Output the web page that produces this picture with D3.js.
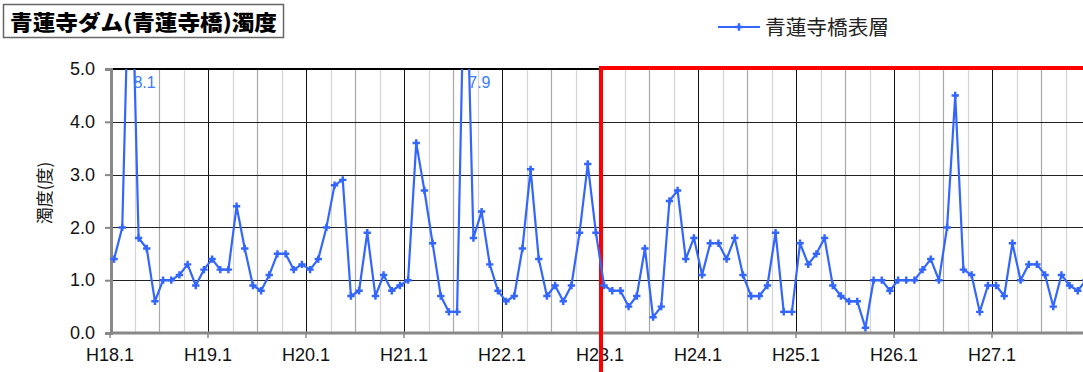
<!DOCTYPE html>
<html><head><meta charset="utf-8">
<script src="https://cdn.jsdelivr.net/npm/d3@7"></script>
<style>
html,body{margin:0;padding:0;background:#fff;overflow:hidden;}
svg{display:block;font-family:"Liberation Sans",Arial,sans-serif;}
</style></head>
<body>
<svg id="chart" width="1083" height="372"></svg>
<script>
const years = ["H18","H19","H20","H21","H22","H23","H24","H25","H26","H27"];
const months = [1,2,3,4,5,6,7,8,9,10,11,12];
const yearTickLabels = ["H18.1","H19.1","H20.1","H21.1","H22.1","H23.1","H24.1","H25.1","H26.1","H27.1"];
const yTicks = [0,1,2,3,4,5];
const seriesName = "青蓮寺橋表層";
const values = [
  1.4,2.0,8.1,1.8,1.6,0.6,1.0,1.0,1.1,1.3,0.9,1.2,
  1.4,1.2,1.2,2.4,1.6,0.9,0.8,1.1,1.5,1.5,1.2,1.3,
  1.2,1.4,2.0,2.8,2.9,0.7,0.8,1.9,0.7,1.1,0.8,0.9,
  1.0,3.6,2.7,1.7,0.7,0.4,0.4,7.9,1.8,2.3,1.3,0.8,
  0.6,0.7,1.6,3.1,1.4,0.7,0.9,0.6,0.9,1.9,3.2,1.9,
  0.9,0.8,0.8,0.5,0.7,1.6,0.3,0.5,2.5,2.7,1.4,1.8,
  1.1,1.7,1.7,1.4,1.8,1.1,0.7,0.7,0.9,1.9,0.4,0.4,
  1.7,1.3,1.5,1.8,0.9,0.7,0.6,0.6,0.1,1.0,1.0,0.8,
  1.0,1.0,1.0,1.2,1.4,1.0,2.0,4.5,1.2,1.1,0.4,0.9,
  0.9,0.7,1.7,1.0,1.3,1.3,1.1,0.5,1.1,0.9,0.8,1.0
];
const categories = [];
years.forEach(y => months.forEach(m => categories.push(y + "." + m)));
const data = categories.map((c,i) => ({c, v: values[i]}));

const svg = d3.select("#chart");
const L = 110, R = 1090, T = 69, B = 333;
const x = d3.scaleBand().domain(categories).range([L, R]).paddingInner(0).paddingOuter(0);
const y = d3.scaleLinear().domain([0,5]).range([B, T]);
const cx = c => x(c) + x.bandwidth()/2;
const blue = "#3366ff";

svg.append("defs").append("clipPath").attr("id","plot")
  .append("rect").attr("x", L).attr("y", T).attr("width", R-L).attr("height", B-T);

// vertical quarter gridlines
const quarterCats = categories.filter(c => [4,7,10].includes(+c.split(".")[1]));
svg.append("g").selectAll("line").data(quarterCats).join("line")
  .attr("x1", c => Math.round(x(c))+0.5).attr("x2", c => Math.round(x(c))+0.5)
  .attr("y1", T).attr("y2", B)
  .attr("stroke", c => +c.split(".")[1] === 7 ? "#a8a8a8" : "#d4d4d4")
  .attr("stroke-width", 1.2);
// year gridlines
svg.append("g").selectAll("line").data(yearTickLabels.slice(1)).join("line")
  .attr("x1", c => Math.round(x(c))+0.5).attr("x2", c => Math.round(x(c))+0.5)
  .attr("y1", T).attr("y2", B).attr("stroke", "#111").attr("stroke-width", 1);
// horizontal gridlines
svg.append("g").selectAll("line").data(yTicks.filter(d => d>0 && d<5)).join("line")
  .attr("x1", L).attr("x2", R)
  .attr("y1", d => Math.round(y(d))+0.5).attr("y2", d => Math.round(y(d))+0.5)
  .attr("stroke", "#222").attr("stroke-width", 1);
svg.append("line").attr("x1", L).attr("x2", R).attr("y1", y(5)).attr("y2", y(5))
  .attr("stroke", "#000").attr("stroke-width", 2);

// y axis
const yAxis = svg.append("g").attr("transform", `translate(${L+1},0)`)
  .call(d3.axisLeft(y).tickValues(yTicks).tickFormat(d3.format(".1f")).tickSize(6).tickPadding(10));
yAxis.select(".domain").attr("stroke", "#888").attr("stroke-width", 3);
yAxis.selectAll(".tick line").attr("stroke", "#888").attr("stroke-width", 2);
yAxis.selectAll(".tick text").attr("font-size", 18).attr("fill", "#111")
  .attr("font-family", "'Liberation Sans', Arial, sans-serif");

// x axis
const xAxis = svg.append("g").attr("transform", `translate(0,${B})`)
  .call(d3.axisBottom(x).tickValues(yearTickLabels).tickSize(5).tickPadding(10));
xAxis.selectAll(".tick").attr("transform", c => `translate(${x(c)},0)`);
xAxis.select(".domain").attr("stroke", "#888").attr("stroke-width", 3).attr("d", `M${L},0H${R}`);
xAxis.selectAll(".tick line").attr("stroke", "#888").attr("stroke-width", 1.5);
xAxis.selectAll(".tick text").attr("font-size", 18).attr("fill", "#111")
  .attr("font-family", "'Liberation Sans', Arial, sans-serif");

// red rectangle
svg.append("rect")
  .attr("x", x("H23.1")+1).attr("y", y(5)-1)
  .attr("width", 700).attr("height", 400)
  .attr("fill", "none").attr("stroke", "#ff0000").attr("stroke-width", 4);

// series
const line = d3.line().x(d => cx(d.c)).y(d => y(d.v));
const gS = svg.append("g").attr("clip-path", "url(#plot)");
gS.append("path").datum(data).attr("d", line)
  .attr("fill", "none").attr("stroke", blue).attr("stroke-width", 2.2).attr("stroke-linejoin","round");
const sym = d3.symbol().type(d3.symbolCross).size(30);
gS.selectAll(".m").data(data.filter(d => d.v <= 5)).join("path")
  .attr("transform", d => `translate(${cx(d.c)},${y(d.v)})`)
  .attr("d", sym).attr("fill", blue);

// labels for off-scale values
svg.append("g").selectAll("text").data(data.filter(d => d.v > 5)).join("text")
  .attr("x", d => cx(d.c) + 3).attr("y", y(5) + 19)
  .attr("font-size", 16).attr("fill", "#3a7bff")
  .text(d => d.v.toFixed(1));

// y axis title
svg.append("text")
  .attr("transform", `translate(51,${(T+B)/2 - 8}) rotate(-90)`)
  .attr("text-anchor", "middle")
  .attr("font-family", "'Noto Sans CJK JP', sans-serif")
  .attr("font-size", 17).attr("fill", "#111")
  .text("濁度(度)");

// title box
svg.append("rect").attr("x", 3.5).attr("y", 4.5).attr("width", 280).attr("height", 33)
  .attr("fill", "#fff").attr("stroke", "#666").attr("stroke-width", 1.5);
svg.append("text").attr("x", 10).attr("y", 30)
  .attr("font-family", "'Noto Sans CJK JP', sans-serif")
  .attr("font-weight", 900).attr("font-size", 21)
  .attr("textLength", 267).attr("lengthAdjust", "spacingAndGlyphs")
  .attr("fill", "#000")
  .text("青蓮寺ダム(青蓮寺橋)濁度");

// legend
const lg = svg.append("g");
lg.append("line").attr("x1", 718).attr("x2", 760).attr("y1", 27).attr("y2", 27)
  .attr("stroke", blue).attr("stroke-width", 2);
lg.append("path").attr("transform", "translate(739,27)").attr("d", sym).attr("fill", blue);
lg.append("text").attr("x", 765).attr("y", 35)
  .attr("font-family", "'Noto Sans CJK JP', sans-serif")
  .attr("font-size", 20).attr("fill", "#222")
  .attr("textLength", 124).attr("lengthAdjust", "spacingAndGlyphs")
  .text(seriesName);
</script>
</body></html>
